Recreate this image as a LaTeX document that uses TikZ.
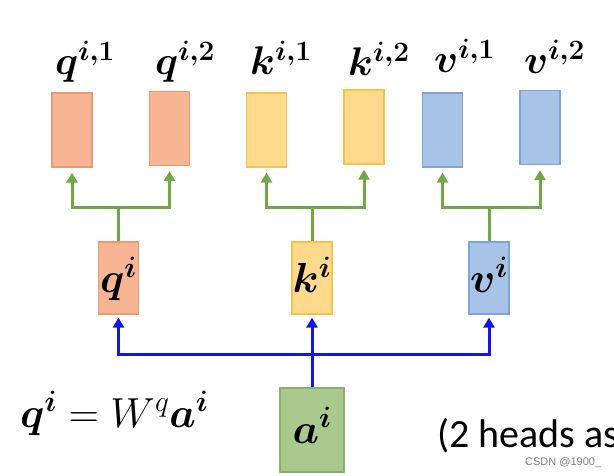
\RequirePackage{fix-cm}
\documentclass[tikz,border=0pt]{standalone}
\usepackage{amsmath}
\usepackage{fontspec}
\usepackage{tikz}
\usetikzlibrary{arrows.meta}
\newfontfamily\calibri{Carlito}
\newfontfamily\arialfont{Liberation Sans}
\definecolor{qfill}{HTML}{F8B593}
\definecolor{qline}{HTML}{EC9A72}
\definecolor{kfill}{HTML}{FFD98C}
\definecolor{kline}{HTML}{F7C34C}
\definecolor{vfill}{HTML}{A7C3E8}
\definecolor{vline}{HTML}{7FA5D8}
\definecolor{afill}{HTML}{A9C98D}
\definecolor{aline}{HTML}{8AB06C}
\definecolor{glink}{HTML}{70A847}
\definecolor{blink}{HTML}{1414F0}

\begin{document}
\begin{tikzpicture}[x=1pt,y=-1pt,
	box/.style={rectangle,draw,line width=1.2pt,minimum width=40pt,minimum height=74pt,inner sep=0pt},
	qbox/.style={box,fill=qfill,draw=qline},
	kbox/.style={box,fill=kfill,draw=kline},
	vbox/.style={box,fill=vfill,draw=vline},
	midbox/.style={minimum height=72pt,text height=39pt,text depth=9pt,font=\fontsize{42}{50}\selectfont},
	head/.style={anchor=base west,inner sep=0pt,font=\fontsize{40}{48}\selectfont},
	gline/.style={draw=glink,line width=3pt},
	bline/.style={draw=blink,line width=3pt},
	uparrow/.style={-{Triangle[length=10pt,width=11pt]}}]
\useasboundingbox (0,0) rectangle (614,476);
\fill[white] (0,0) rectangle (614,476);
\clip (0,0) rectangle (614,476);
\node [head] (lq1) at (55,75) {$\boldsymbol{q^{i,1}}$};
\node [head] (lq2) at (155,75) {$\boldsymbol{q^{i,2}}$};
\node [head] (lk1) at (250,75) {$\boldsymbol{k^{i,1}}$};
\node [head] (lk2) at (348,76) {$\boldsymbol{k^{i,2}}$};
\node [head] (lv1) at (434,73) {$\boldsymbol{v^{i,1}}$};
\node [head] (lv2) at (524,74) {$\boldsymbol{v^{i,2}}$};
\node [qbox] (q1) at (72,130) {};
\node [qbox] (q2) at (169.5,128.5) {};
\node [kbox] (k1) at (266.5,130) {};
\node [kbox] (k2) at (364,127) {};
\node [vbox] (v1) at (442.5,130) {};
\node [vbox] (v2) at (540,127.5) {};
\node [qbox,midbox] (qm) at (118.5,278) {$\boldsymbol{q^{i}}$};
\node [kbox,midbox] (km) at (312,278) {$\boldsymbol{k^{i}}$};
\node [vbox,midbox] (vm) at (489,278) {$\boldsymbol{v^{i}}$};
\node [box,fill=afill,draw=aline,minimum width=64pt,minimum height=84pt,text height=35pt,text depth=9pt,font=\fontsize{42}{50}\selectfont] (a) at (312,430) {$\boldsymbol{a^{i}}$};
\node [anchor=base west,inner sep=0pt,font=\fontsize{42}{50}\selectfont] (eq) at (20,427) {$\boldsymbol{q}^{\boldsymbol{i}} = W^{q}\boldsymbol{a}^{\boldsymbol{i}}$};
\node [anchor=base west,inner sep=0pt,font=\calibri\fontsize{40}{48}\selectfont] (heads) at (437,447) {(2 heads as};
\node [anchor=base west,inner sep=0pt,text=black!50,font=\arialfont\fontsize{11}{13}\selectfont] (mark) at (525,465) {CSDN @1900\_};
\coordinate (qs) at (118.5,208);
\coordinate (ks) at (312,208);
\coordinate (vs) at (489,208);
\coordinate (as) at (312,354);
\draw [gline] (qm.north) -- (qs);
\draw [gline,uparrow,shorten >=5pt] (qs) -| (q1.south);
\draw [gline,uparrow,shorten >=5pt] (qs) -| (q2.south);
\draw [gline] (km.north) -- (ks);
\draw [gline,uparrow,shorten >=5pt] (ks) -| (k1.south);
\draw [gline,uparrow,shorten >=5pt] (ks) -| (k2.south);
\draw [gline] (vm.north) -- (vs);
\draw [gline,uparrow,shorten >=5pt] (vs) -| (v1.south);
\draw [gline,uparrow,shorten >=5pt] (vs) -| (v2.south);
\draw [bline] (a.north) -- (as);
\draw [bline,uparrow,shorten >=3pt] (as) -| (qm.south);
\draw [bline,uparrow,shorten >=3pt] (as) -- (km.south);
\draw [bline,uparrow,shorten >=3pt] (as) -| (vm.south);
\end{tikzpicture}
\end{document}
